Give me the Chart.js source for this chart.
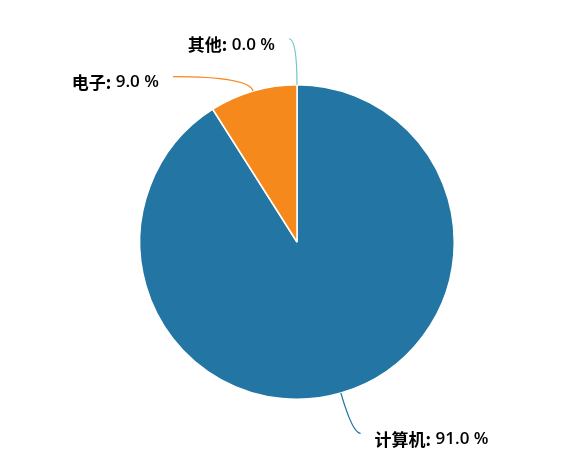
<!DOCTYPE html>
<html>
<head>
<meta charset="utf-8">
<script src="https://cdn.jsdelivr.net/npm/chart.js@4.4.1/dist/chart.umd.min.js"></script>
<style>
  html, body { margin: 0; padding: 0; background: #fff; }
  #wrap { width: 568px; height: 472px; position: relative; }
</style>
</head>
<body>
<div id="wrap"><canvas id="pie"></canvas></div>
<script>
// chart data
const categories = ['计算机', '电子', '其他'];
const shares = [91.0, 9.0, 0.0];
const sliceColors = ['#2376a3', '#f5891b', '#6fc6c7'];

// leader line look per slice: radial stub, horizontal run, side
const leaders = [
  { ext: 42, run: 8, side: 1 },
  { ext: 15, run: 76, side: -1 },
  { ext: 46, run: 8, side: -1 }
];

const leaderLabels = {
  id: 'leaderLabels',
  afterDatasetsDraw(chart) {
    const ctx = chart.ctx;
    const meta = chart.getDatasetMeta(0);
    meta.data.forEach((arc, i) => {
      const p = arc.getProps(['x', 'y', 'startAngle', 'endAngle', 'outerRadius'], true);
      const mid = (p.startAngle + p.endAngle) / 2;
      const dx = Math.cos(mid), dy = Math.sin(mid);
      const sx = p.x + dx * p.outerRadius, sy = p.y + dy * p.outerRadius;
      const L = leaders[i];
      const ex = sx + dx * L.ext, ey = sy + dy * L.ext;
      const tx = ex + L.side * L.run;
      ctx.save();
      ctx.strokeStyle = sliceColors[i];
      ctx.lineWidth = 1.2;
      ctx.beginPath();
      ctx.moveTo(sx, sy);
      ctx.quadraticCurveTo(ex, ey, tx, ey);
      ctx.stroke();

      const name = categories[i] + ':';
      const val = ' ' + shares[i].toFixed(1) + ' %';
      const boldFont = 'bold 17px "Noto Sans CJK SC", "Noto Sans", sans-serif';
      const normFont = '600 17px "Open Sans", "Noto Sans", sans-serif';
      ctx.font = boldFont;
      const w1 = ctx.measureText(name).width;
      ctx.font = normFont;
      const w2 = ctx.measureText(val).width;
      const gap = 14;
      const ty = ey + 6;
      let x0 = L.side > 0 ? tx + gap : tx - gap - w1 - w2;
      ctx.fillStyle = '#000';
      ctx.textBaseline = 'middle';
      ctx.textAlign = 'left';
      ctx.font = boldFont;
      ctx.fillText(name, x0, ty);
      ctx.font = normFont;
      ctx.fillText(val, x0 + w1, ty);
      ctx.restore();
    });
  }
};

new Chart(document.getElementById('pie'), {
  type: 'pie',
  data: {
    labels: categories,
    datasets: [{
      data: shares,
      backgroundColor: sliceColors,
      borderColor: '#ffffff',
      borderWidth: 1.5
    }]
  },
  options: {
    responsive: true,
    maintainAspectRatio: false,
    animation: false,
    layout: { padding: { top: 84, bottom: 72, left: 139, right: 113 } },
    plugins: { legend: { display: false }, tooltip: { enabled: false } }
  },
  plugins: [leaderLabels]
});
</script>
</body>
</html>
